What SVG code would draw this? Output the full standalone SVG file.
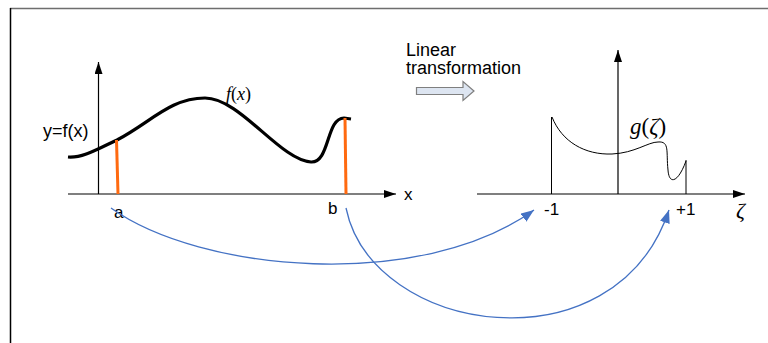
<svg xmlns="http://www.w3.org/2000/svg" width="768" height="343" viewBox="0 0 768 343">
  <style>
    .lbl { font-family: "Liberation Sans", Arial, sans-serif; font-size: 17px; fill: #000; }
    .big { font-size: 18px; }
    .math { font-family: "Liberation Serif", "Times New Roman", serif; fill: #000; }
    .it { font-style: italic; }
    .axis { stroke: #000; stroke-width: 1.2; fill: none; }
    .conn { stroke: #4472C4; stroke-width: 1.3; fill: none; }
    .orange { stroke: #FF6A10; stroke-width: 3; fill: none; }
  </style>
  <defs>
    <marker id="blackArrow" markerWidth="12" markerHeight="8" refX="12" refY="4" orient="auto" markerUnits="userSpaceOnUse">
      <path d="M0,0 L12,4 L0,8 Z" fill="#000"/>
    </marker>
    <marker id="blueArrow" markerWidth="13" markerHeight="10" refX="13" refY="5" orient="auto" markerUnits="userSpaceOnUse">
      <path d="M0,0 L13,5 L0,10 Z" fill="#4472C4"/>
    </marker>
  </defs>
  <rect width="768" height="343" fill="#fff"/>

  <!-- frame -->
  <line x1="10" y1="8.5" x2="768" y2="8.5" stroke="#6e6e6e" stroke-width="1.5"/>
  <line x1="10.5" y1="8" x2="10.5" y2="343" stroke="#000" stroke-width="1.5"/>

  <!-- left plot -->
  <g id="left-plot">
    <line class="axis" x1="68" y1="194" x2="396" y2="194" marker-end="url(#blackArrow)"/>
    <line class="axis" x1="98.5" y1="194" x2="98.5" y2="62" marker-end="url(#blackArrow)"/>
    <path d="M68 157 C80 158, 90 153, 117 140 C150 123, 170 98, 205 98 C240 98, 280 160, 311 162 C330 163, 326 118, 344 118 L351 119" stroke="#000" stroke-width="3.2" fill="none"/>
    <line class="orange" x1="116.5" y1="140" x2="118" y2="194"/>
    <line class="orange" x1="345" y1="118" x2="346" y2="194"/>
    <text class="lbl big" x="43" y="137">y=f(x)</text>
    <text class="math" x="226" y="100" font-size="18"><tspan class="it">f</tspan>(<tspan class="it">x</tspan>)</text>
    <text class="lbl" x="404" y="200">x</text>
    <text class="lbl" x="114" y="218">a</text>
    <text class="lbl" x="328" y="214">b</text>
  </g>

  <!-- transformation label -->
  <g id="transform">
    <text class="lbl big" x="406" y="55.5">Linear</text>
    <text class="lbl big" x="406" y="74">transformation</text>
    <polygon points="416.5,87.5 463,87.5 463,81.5 474,91 463,100.5 463,94.5 416.5,94.5" fill="#dde5f1" stroke="#7f7f7f" stroke-width="1.2"/>
  </g>

  <!-- right plot -->
  <g id="right-plot">
    <line class="axis" x1="477" y1="194" x2="745" y2="194" marker-end="url(#blackArrow)"/>
    <line class="axis" x1="618" y1="194" x2="618" y2="50" marker-end="url(#blackArrow)"/>
    <line stroke="#000" stroke-width="1" x1="551.5" y1="194" x2="551.5" y2="117"/>
    <line stroke="#000" stroke-width="1" x1="686" y1="194" x2="686" y2="160"/>
    <path d="M552 117 C562 142, 585 155, 612 154 C635 153, 648 142, 658 142 C670 141, 666 152, 668 170 C669 185, 678 183, 686 161" stroke="#000" stroke-width="1" fill="none"/>
    <text class="math" x="630" y="134" font-size="23"><tspan class="it">g</tspan>(<tspan class="it">ζ</tspan>)</text>
    <text class="lbl" x="544" y="215">-1</text>
    <text class="lbl" x="676" y="215">+1</text>
    <text class="math it" x="736" y="218" font-size="22">ζ</text>
  </g>

  <!-- connectors -->
  <g id="connectors">
    <path class="conn" d="M111 208 C200 272, 420 292, 534 210" marker-end="url(#blueArrow)"/>
    <path class="conn" d="M346 208 C372 335, 615 372, 669 210" marker-end="url(#blueArrow)"/>
  </g>
</svg>
